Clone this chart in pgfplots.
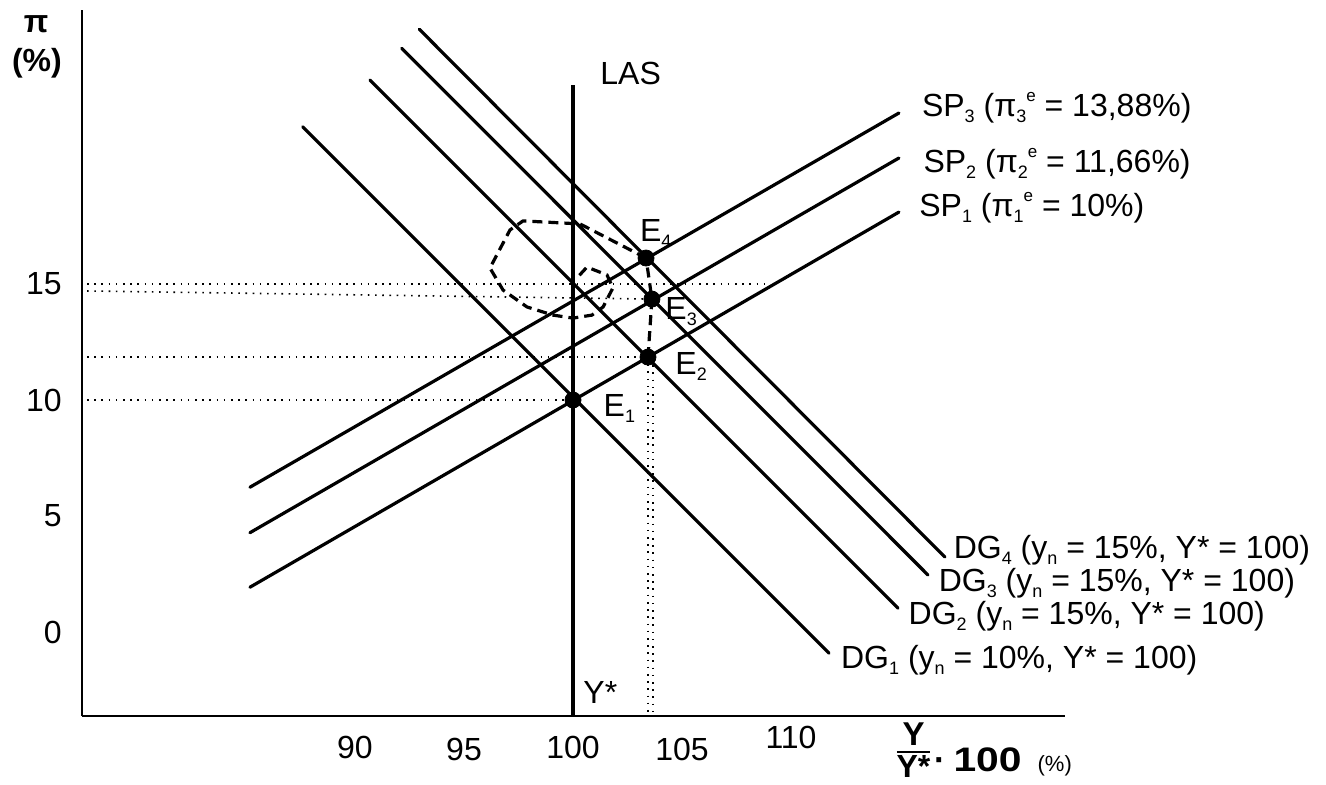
\documentclass[border=0pt]{standalone}
\usepackage{pgfplots}
\pgfplotsset{compat=1.18}
\usepackage{fontspec}
\setmainfont{Liberation Sans}
\newcommand{\sub}[1]{\raisebox{-3pt}{\fontsize{9}{10}\selectfont #1}}
\newcommand{\sups}[1]{\raisebox{7.5pt}{\fontsize{8.5}{10}\selectfont #1}}
\tikzset{lab/.style={font=\fontsize{16}{19}\selectfont, inner sep=0pt}}
\begin{document}
\begin{tikzpicture}
\begin{axis}[
  x=10.9pt, y=11.6pt,
  xmin=77.48, xmax=122.57, ymin=-3.62, ymax=26.81,
  axis lines=left,
  axis line style={-, line width=1.3pt},
  clip=false,
  xtick={90,95,100,105,110},
  xticklabels={90,{\raisebox{-1pt}{95}},100,{\raisebox{-1pt}{105}},{\raisebox{5pt}{110}}},
  ytick={0,5,10,15},
  major tick length=0pt,
  tick style={draw=none},
  /pgf/number format/assume math mode=true,
  ticklabel style={font=\fontsize{16}{19}\selectfont, inner sep=0pt},
  xticklabel style={anchor=base, yshift=-21pt},
  yticklabel style={anchor=east, xshift=-10pt},
]
% bounding box of the whole picture
\path (axis cs:73.716,-6.552) rectangle (axis cs:134.54,27.241);

% dotted guide lines
\addplot[black, line width=0.8pt, dash pattern=on 0.8pt off 2.8pt] coordinates {(77.71,15) (109.04,15)};
\addplot[black, line width=0.8pt, dash pattern=on 0.8pt off 2.8pt] coordinates {(77.71,14.70) (103.62,14.35)};
\addplot[black, line width=0.8pt, dash pattern=on 0.8pt off 2.8pt] coordinates {(77.71,11.85) (103.44,11.85)};
\addplot[black, line width=0.8pt, dash pattern=on 0.8pt off 2.8pt] coordinates {(77.71,10) (100,10)};
\addplot[black, line width=0.8pt, dash pattern=on 0.8pt off 2.8pt] coordinates {(103.44,11.85) (103.44,-3.62)};
\addplot[black, line width=0.8pt, dash pattern=on 0.8pt off 2.8pt] coordinates {(103.68,11.5) (103.68,-3.62)};

% LAS
\addplot[black, line width=1.6pt] coordinates {(100,-3.62) (100,23.58)};
% SP curves
\addplot[black, line width=1.6pt, line cap=round] coordinates {(85.18,1.93) (114.95,18.10)};
\addplot[black, line width=1.6pt, line cap=round] coordinates {(85.18,4.28) (114.95,20.43)};
\addplot[black, line width=1.6pt, line cap=round] coordinates {(85.18,6.24) (114.95,22.37)};
% DG curves
\addplot[black, line width=1.6pt, line cap=round] coordinates {(87.60,21.78) (111.74,-0.91)};
\addplot[black, line width=1.6pt, line cap=round] coordinates {(90.69,23.79) (114.91,1.03)};
\addplot[black, line width=1.6pt, line cap=round] coordinates {(92.14,25.16) (116.28,2.46)};
\addplot[black, line width=1.6pt, line cap=round] coordinates {(92.95,25.98) (117.06,3.23)};

% dashed adjustment path
\addplot[black, line width=1.6pt, dash pattern=on 5pt off 3pt] coordinates {
  (103.44,11.85) (103.62,14.35) (103.35,16.12)};
\addplot[black, line width=1.6pt, dash pattern=on 5pt off 3pt] coordinates {
  (103.35,16.12) (100.32,17.59) (97.71,17.72) (97.11,17.33) (96.19,15.69)
  (96.79,14.74) (97.89,14.01) (99.08,13.66) (100,13.53) (100.87,13.66)
  (101.38,14.01) (101.83,14.83) (101.56,15.39) (100.64,15.73) (100.18,15.26)};

% equilibrium points
\addplot[only marks, mark=*, mark size=4pt, black] coordinates {
  (100,10) (103.44,11.85) (103.62,14.35) (103.35,16.12)};

% labels
\node[lab, anchor=base west] at (axis cs:115.99,22.20) {SP\sub{3} (π\sub{3}\sups{e} = 13,88\%)};
\node[lab, anchor=base west] at (axis cs:116.06,19.81) {SP\sub{2} (π\sub{2}\sups{e} = 11,66\%)};
\node[lab, anchor=base west] at (axis cs:115.87,17.90) {SP\sub{1} (π\sub{1}\sups{e} = 10\%)};
\node[lab, anchor=base west] at (axis cs:117.45,3.18) {DG\sub{4} (y\sub{n} = 15\%, Y* = 100)};
\node[lab, anchor=base west] at (axis cs:116.76,1.74) {DG\sub{3} (y\sub{n} = 15\%, Y* = 100)};
\node[lab, anchor=base west] at (axis cs:115.38,0.34) {DG\sub{2} (y\sub{n} = 15\%, Y* = 100)};
\node[lab, anchor=base west] at (axis cs:112.28,-1.56) {DG\sub{1} (y\sub{n} = 10\%, Y* = 100)};
\node[lab, anchor=base west] at (axis cs:103.06,16.82) {E\sub{4}};
\node[lab, anchor=base west] at (axis cs:104.22,13.45) {E\sub{3}};
\node[lab, anchor=base west] at (axis cs:104.68,11.08) {E\sub{2}};
\node[lab, anchor=base west] at (axis cs:101.39,9.28) {E\sub{1}};
\node[lab, anchor=base west] at (axis cs:101.24,23.58) {LAS};
\node[lab, anchor=base west] at (axis cs:100.46,-3.06) {Y*};
\node[lab, anchor=base, font=\fontsize{16}{18}\selectfont\bfseries] at (axis cs:75.37,25.82) {π};
\node[lab, anchor=base, font=\fontsize{16}{18}\selectfont\bfseries] at (axis cs:75.41,24.14) {(\%)};
% x-axis title: Y / Y* . 100 (%)
\node[lab, anchor=base, font=\fontsize{16.5}{19}\selectfont\bfseries] at (axis cs:115.62,-4.87) {Y};
\draw[line width=1pt] (axis cs:114.86,-5.17) -- (axis cs:116.38,-5.17);
\node[lab, anchor=base, font=\fontsize{16}{19}\selectfont\bfseries] at (axis cs:115.62,-6.29) {Y*};
\node[lab, anchor=base west] at (axis cs:116.55,-6.03)
  {{\fontsize{17}{19}\selectfont\bfseries ·\hspace{4pt}\scalebox{1.2}[1]{100}}\hspace{8pt}{\fontsize{11}{13}\selectfont (\%)}};
\end{axis}
\end{tikzpicture}
\end{document}
